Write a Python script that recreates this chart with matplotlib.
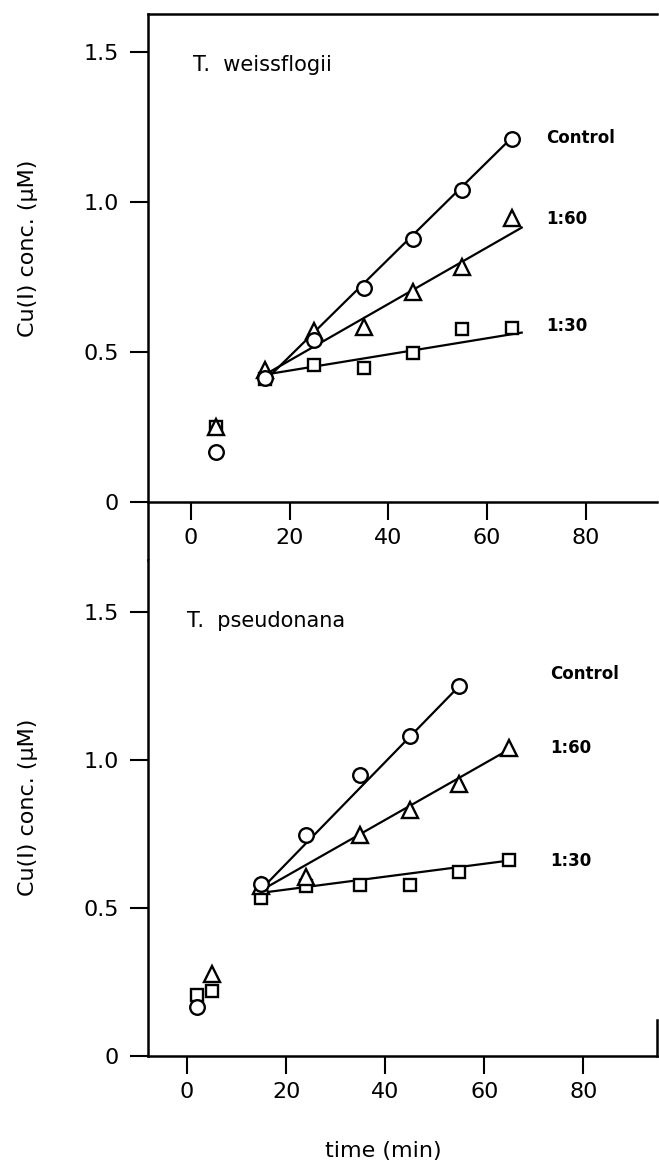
import matplotlib.pyplot as plt

plt.rcParams["font.family"] = ["DejaVu Sans"]

# T. weissflogii (top panel)
tw_time = [5, 15, 25, 35, 45, 55, 65]
tw_control = [0.167, 0.413, 0.542, 0.713, 0.877, 1.042, 1.211]
tw_r60 = [0.25, 0.44, 0.571, 0.585, 0.70, 0.783, 0.947]
tw_r30 = [0.25, 0.41, 0.456, 0.446, 0.496, 0.577, 0.58]
tw_fit_x = {"Control": [15, 65], "1:60": [15, 67], "1:30": [15, 67]}
tw_fit_y = {"Control": [0.405, 1.215], "1:60": [0.425, 0.915], "1:30": [0.425, 0.565]}
tw_label_y = {"Control": 1.213, "1:60": 0.943, "1:30": 0.587}

# T. pseudonana (bottom panel)
tp_ctrl_t = [2, 15, 24, 35, 45, 55]
tp_control = [0.165, 0.582, 0.745, 0.948, 1.08, 1.249]
tp_r60_t = [5, 15, 24, 35, 45, 55, 65]
tp_r60 = [0.277, 0.573, 0.605, 0.747, 0.832, 0.92, 1.04]
tp_r30_t = [2, 5, 15, 24, 35, 45, 55, 65]
tp_r30 = [0.207, 0.219, 0.534, 0.573, 0.579, 0.579, 0.622, 0.661]
tp_fit_x = {"Control": [14.5, 55], "1:60": [14.5, 65], "1:30": [14.5, 65]}
tp_fit_y = {"Control": [0.555, 1.25], "1:60": [0.555, 1.035], "1:30": [0.55, 0.66]}
tp_label_y = {"Control": 1.29, "1:60": 1.041, "1:30": 0.66}

xticks = [0, 20, 40, 60, 80]
yticks = [0, 0.5, 1.0, 1.5]
ytick_labels = ["0", "0.5", "1.0", "1.5"]

W, H = 659, 1162
fig = plt.figure(figsize=(W / 100, H / 100), dpi=100)

ax1 = fig.add_axes([148 / W, 1 - 560 / H, 509 / W, 546 / H])
ax2 = fig.add_axes([148 / W, 1 - 1056 / H, 509 / W, 496 / H])

mk = dict(color="black", markerfacecolor="white", markeredgecolor="black",
          markeredgewidth=1.7, linestyle="none", zorder=3)


def style(ax):
    ax.set_xticks(xticks)
    ax.set_yticks(yticks)
    ax.set_yticklabels(ytick_labels)
    ax.tick_params(axis="both", direction="out", length=13, width=1.5,
                   labelsize=16)
    ax.tick_params(axis="y", pad=8)
    ax.tick_params(axis="x", pad=6)
    for s in ax.spines.values():
        s.set_linewidth(1.8)
    ax.set_ylabel("Cu(I) conc. (μM)", fontsize=16)


# top panel
ax = ax1
ax.set_xlim(-8.7, 94.4)
ax.set_ylim(-0.193, 1.627)
for k in tw_fit_x:
    ax.plot(tw_fit_x[k], tw_fit_y[k], color="black", lw=1.6, zorder=2)
ax.plot(tw_time, tw_r30, marker="s", markersize=9, **mk)
ax.plot(tw_time, tw_r60, marker="^", markersize=12, **mk)
ax.plot(tw_time, tw_control, marker="o", markersize=10.5, **mk)
for k, y in tw_label_y.items():
    ax.text(72, y, k, fontsize=12, fontweight="bold", va="center", ha="left")
ax.text(0.4, 1.458, "T.  weissflogii", fontsize=15, va="center", ha="left")
ax.spines["bottom"].set_position(("data", 0))
ax.spines["right"].set_visible(False)
style(ax)
ax.yaxis.set_label_coords(-0.216, 0.571)

# bottom panel
ax = ax2
ax.set_xlim(-7.9, 94.9)
ax.set_ylim(0, 1.675)
for k in tp_fit_x:
    ax.plot(tp_fit_x[k], tp_fit_y[k], color="black", lw=1.6, zorder=2)
ax.plot(tp_r30_t, tp_r30, marker="s", markersize=9, **mk)
ax.plot(tp_r60_t, tp_r60, marker="^", markersize=12, **mk)
ax.plot(tp_ctrl_t, tp_control, marker="o", markersize=10.5, **mk)
for k, y in tp_label_y.items():
    ax.text(73.4, y, k, fontsize=12, fontweight="bold", va="center", ha="left")
ax.text(0.0, 1.469, "T.  pseudonana", fontsize=15, va="center", ha="left")
ax.spines["top"].set_visible(False)
ax.spines["right"].set_bounds(0, 0.12)
style(ax)
ax.yaxis.set_label_coords(-0.216, 0.502)

fig.text(383 / W, 1 - 1151 / H, "time (min)", fontsize=16, ha="center", va="center")

fig.savefig("out.png", dpi=100)
